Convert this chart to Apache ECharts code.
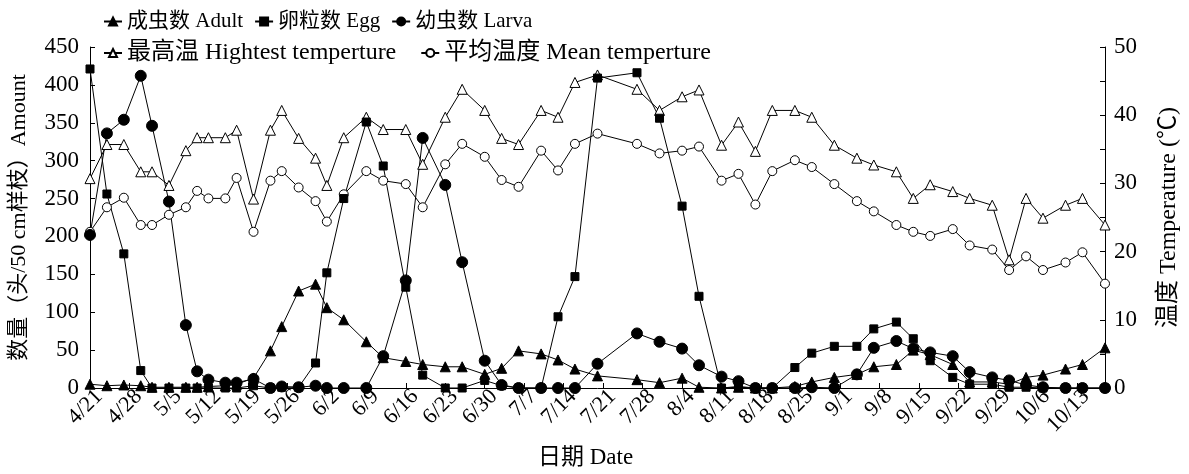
<!DOCTYPE html>
<html>
<head>
<meta charset="utf-8">
<script src="https://cdn.jsdelivr.net/npm/echarts@6/dist/echarts.min.js"></script>
<style>
html,body{margin:0;padding:0;background:#fff;}
#c{width:1189px;height:474px;}
</style>
</head>
<body>
<div id="c"></div>
<script>
// Sampling dates (month/day)
var dates = ['4/21','4/24','4/27','4/30','5/2','5/5','5/8','5/10','5/12','5/15','5/17','5/20','5/23','5/25','5/28','5/31','6/2','6/5','6/9','6/12','6/16','6/19','6/23','6/26','6/30','7/3','7/6','7/10','7/13','7/16','7/20','7/27','7/31','8/4','8/7','8/11','8/14','8/17','8/20','8/24','8/27','8/31','9/4','9/7','9/11','9/14','9/17','9/21','9/24','9/28','10/1','10/4','10/7','10/11','10/14','10/18'];
// 成虫数 Adult
var adult = [5,3,4,3,1,1,1,1,2,3,5,13,49,81,128,137,106,90,61,40,35,31,28,28,18,26,49,45,37,25,16,11,7,13,1,0,1,0,0,2,8,14,18,28,31,50,44,31,8,8,5,14,17,25,31,53];
// 卵粒数 Egg
var egg = [421,256,177,23,0,0,0,0,0,0,0,3,0,1,1,33,152,250,351,293,133,17,0,0,10,3,0,0,94,147,409,416,356,240,121,0,2,0,0,27,46,55,55,78,87,65,36,14,5,5,1,1,0,0,0,0];
// 幼虫数 Larva
var larva = [202,336,354,412,346,246,83,22,11,7,7,12,0,2,1,3,0,0,0,42,142,330,268,166,36,4,0,0,0,0,32,72,61,52,30,15,9,0,0,0,1,0,18,53,62,52,47,42,21,14,10,4,1,0,0,0];
// 最高温 Highest temperature (°C)
var maxTemp = [30.7,35.7,35.7,31.7,31.7,29.7,34.8,36.7,36.7,36.7,37.8,27.7,37.8,40.7,36.6,33.7,29.7,36.7,39.7,37.9,37.9,32.8,39.7,43.8,40.7,36.6,35.7,40.7,39.7,44.8,45.9,43.8,40.7,42.7,43.7,35.6,39.0,34.7,40.7,40.7,39.7,35.6,33.7,32.7,31.7,27.8,29.8,28.8,27.8,26.8,18.8,27.8,24.9,26.8,27.8,23.9];
// 平均温度 Mean temperature (°C)
var meanTemp = [22.9,26.5,27.9,23.9,23.9,25.4,26.5,28.9,27.8,27.8,30.8,22.9,30.4,31.8,29.4,27.4,24.4,28.4,31.8,30.4,29.9,26.5,32.8,35.8,33.9,30.5,29.5,34.8,31.9,35.8,37.3,35.8,34.4,34.8,35.4,30.4,31.4,26.9,31.8,33.4,32.4,29.9,27.4,25.9,23.9,22.9,22.3,23.3,20.9,20.3,17.3,19.3,17.3,18.4,19.9,15.3];
// x tick labels (weekly)
var tickLabels = ['4/21','4/28','5/5','5/12','5/19','5/26','6/2','6/9','6/16','6/23','6/30','7/7','7/14','7/21','7/28','8/4','8/11','8/18','8/25','9/1','9/8','9/15','9/22','9/29','10/6','10/13'];

var FONT = '"Liberation Serif", "Times New Roman", "Noto Sans CJK SC", serif';
var base = Date.UTC(2000, 3, 21);
function dayOf(s){ var p = s.split('/'); return Math.round((Date.UTC(2000, +p[0]-1, +p[1]) - base) / 86400000); }
function pairs(arr){ return dates.map(function(d,i){ return [dayOf(d), arr[i]]; }); }

var chart = echarts.init(document.getElementById('c'), null, {renderer:'canvas'});
var lineStyle = {color:'#000', width:1};
function mk(name, arr, yIdx, symbol, size, filled){
  return {
    name: name, type:'line', yAxisIndex: yIdx, data: pairs(arr),
    symbol: symbol, symbolSize: size, showAllSymbol: true,
    lineStyle: lineStyle,
    itemStyle: {color: filled ? '#000' : '#fff', borderColor:'#000', borderWidth:1},
    emphasis:{disabled:true}, animation:false
  };
}
var N_ADULT='成虫数 Adult', N_EGG='卵粒数 Egg', N_LARVA='幼虫数 Larva', N_MAX='最高温 Hightest temperture', N_MEAN='平均温度 Mean temperture';
var option = {
  animation:false,
  backgroundColor:'#fff',
  textStyle:{fontFamily: FONT},
  grid:{left:86, right:75, top:47, bottom:84},
  legend:[
    {data:[N_ADULT,N_EGG,N_LARVA], left:98, top:6, itemWidth:18, itemHeight:10, itemGap:11,
     textStyle:{fontFamily: FONT, fontSize: 21, color:'#000'}},
    {data:[N_MAX,N_MEAN], left:98, top:36, itemWidth:18, itemHeight:10, itemGap:24,
     textStyle:{fontFamily: FONT, fontSize: 24, color:'#000'}}
  ],
  xAxis:{
    type:'value', min:0, max:180, interval:7,
    name:'日期 Date', nameLocation:'middle', nameGap:58,
    nameTextStyle:{fontFamily:FONT, fontSize:23, color:'#000', padding:[0,24,0,0]},
    axisLine:{show:true, lineStyle:{color:'#000', width:1}},
    axisTick:{show:true, inside:true, length:5, lineStyle:{color:'#000'}},
    splitLine:{show:false},
    axisLabel:{rotate:45, fontFamily:FONT, fontSize:22, color:'#000', margin:-4,
      verticalAlign:'top', lineHeight:26, showMaxLabel:false, hideOverlap:false,
      formatter:function(v){ var i = Math.round(v/7); return (v % 7 === 0 && tickLabels[i]) ? tickLabels[i] : ''; }}
  },
  yAxis:[
    {type:'value', min:0, max:450, interval:50, position:'left',
     name:'数量（头/50 cm样枝）Amount', nameLocation:'middle', nameRotate:90, nameGap:60,
     nameTextStyle:{fontFamily:FONT, fontSize:22, color:'#000'},
     axisLine:{show:true, lineStyle:{color:'#000', width:1}},
     axisTick:{show:true, inside:true, length:5, lineStyle:{color:'#000'}},
     splitLine:{show:false},
     axisLabel:{fontFamily:FONT, fontSize:23, color:'#000', margin:11}},
    {type:'value', min:0, max:50, interval:10, position:'right',
     name:'温度 Temperature (℃)', nameLocation:'middle', nameRotate:90, nameGap:52,
     nameTextStyle:{fontFamily:FONT, fontSize:24, color:'#000'},
     axisLine:{show:true, lineStyle:{color:'#000', width:1}},
     axisTick:{show:true, inside:true, length:5, lineStyle:{color:'#000'}},
     minorTick:{show:true, splitNumber:2, length:5, lineStyle:{color:'#000'}},
     splitLine:{show:false}, minorSplitLine:{show:false},
     axisLabel:{fontFamily:FONT, fontSize:23, color:'#000', margin:9}}
  ],
  series:[
    mk(N_MAX, maxTemp, 1, 'triangle', 10, false),
    mk(N_MEAN, meanTemp, 1, 'circle', 9, false),
    mk(N_ADULT, adult, 0, 'triangle', 10, true),
    mk(N_EGG, egg, 0, 'rect', 8, true),
    mk(N_LARVA, larva, 0, 'circle', 11, true)
  ]
};
chart.setOption(option);
</script>
</body>
</html>
